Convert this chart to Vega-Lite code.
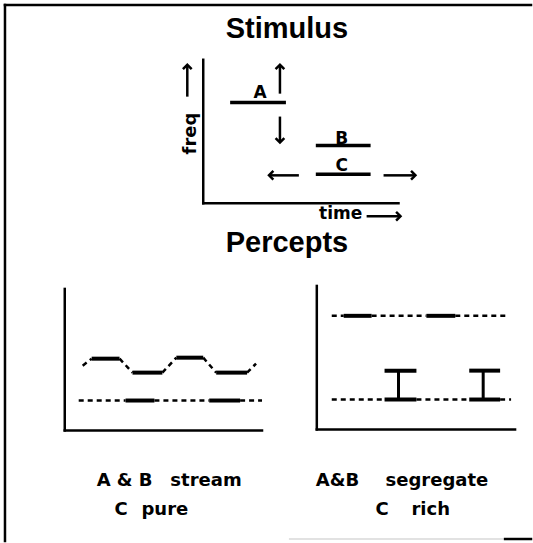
{
  "$schema": "https://vega.github.io/schema/vega-lite/v6.json",
  "width": 533,
  "height": 543,
  "padding": 0,
  "autosize": {"type": "fit", "contains": "padding"},
  "background": "white",
  "config": {"view": {"stroke": null}},
  "datasets": {
    "axes": [
      {"x": 5, "y": 5, "x2": 5, "y2": 543},
      {"x": 5, "y": 5, "x2": 533, "y2": 5},
      {"x": 204, "y": 60, "x2": 204, "y2": 204},
      {"x": 204, "y": 204, "x2": 400, "y2": 204},
      {"x": 65, "y": 290, "x2": 65, "y2": 432},
      {"x": 65, "y": 432, "x2": 263, "y2": 432},
      {"x": 318, "y": 287, "x2": 318, "y2": 431},
      {"x": 318, "y": 431, "x2": 517, "y2": 431},
      {"x": 507, "y": 541, "x2": 533, "y2": 541}
    ],
    "faint": [
      {"x": 290, "y": 541, "x2": 507, "y2": 541}
    ],
    "tones": [
      {"tone": "A", "x": 231, "y": 103, "x2": 287, "y2": 103},
      {"tone": "B", "x": 317, "y": 146, "x2": 372, "y2": 146},
      {"tone": "C", "x": 317, "y": 175, "x2": 372, "y2": 175}
    ],
    "solid": [
      {"x": 92, "y": 360, "x2": 120, "y2": 360},
      {"x": 133, "y": 374, "x2": 163, "y2": 374},
      {"x": 177, "y": 359, "x2": 204, "y2": 359},
      {"x": 217, "y": 374, "x2": 248, "y2": 374},
      {"x": 126, "y": 402, "x2": 155, "y2": 402},
      {"x": 210, "y": 402, "x2": 241, "y2": 402},
      {"x": 345, "y": 317, "x2": 373, "y2": 317},
      {"x": 428, "y": 317, "x2": 457, "y2": 317},
      {"x": 386, "y": 401, "x2": 418, "y2": 401},
      {"x": 471, "y": 401, "x2": 502, "y2": 401},
      {"x": 386, "y": 372, "x2": 418, "y2": 372},
      {"x": 471, "y": 372, "x2": 502, "y2": 372}
    ],
    "beams": [
      {"x": 400, "y": 372, "x2": 400, "y2": 401},
      {"x": 485, "y": 372, "x2": 485, "y2": 401}
    ],
    "dashed": [
      {"x": 83, "y": 367, "x2": 92, "y2": 360},
      {"x": 120, "y": 360, "x2": 133, "y2": 374},
      {"x": 163, "y": 374, "x2": 177, "y2": 359},
      {"x": 204, "y": 359, "x2": 217, "y2": 374},
      {"x": 248, "y": 374, "x2": 257, "y2": 365},
      {"x": 79, "y": 402, "x2": 126, "y2": 402},
      {"x": 155, "y": 402, "x2": 210, "y2": 402},
      {"x": 241, "y": 402, "x2": 263, "y2": 402},
      {"x": 333, "y": 317, "x2": 345, "y2": 317},
      {"x": 373, "y": 317, "x2": 428, "y2": 317},
      {"x": 457, "y": 317, "x2": 510, "y2": 317},
      {"x": 333, "y": 401, "x2": 386, "y2": 401},
      {"x": 418, "y": 401, "x2": 471, "y2": 401},
      {"x": 502, "y": 401, "x2": 513, "y2": 401}
    ],
    "shafts": [
      {"x": 188, "y": 97, "x2": 188, "y2": 66},
      {"x": 281, "y": 94, "x2": 281, "y2": 66},
      {"x": 281, "y": 117, "x2": 281, "y2": 142},
      {"x": 300, "y": 176, "x2": 271, "y2": 176},
      {"x": 385, "y": 176, "x2": 416, "y2": 176},
      {"x": 368, "y": 217, "x2": 401, "y2": 217}
    ],
    "heads": [
      {"x": 188, "y": 65, "dir": "up"},
      {"x": 281, "y": 65, "dir": "up"},
      {"x": 281, "y": 143, "dir": "down"},
      {"x": 270, "y": 176, "dir": "left"},
      {"x": 417, "y": 176, "dir": "right"},
      {"x": 402, "y": 217, "dir": "right"}
    ],
    "titles": [
      {"x": 288, "y": 38, "label": "Stimulus"},
      {"x": 288, "y": 253, "label": "Percepts"}
    ],
    "letters": [
      {"x": 261, "y": 98, "label": "A"},
      {"x": 343, "y": 145, "label": "B"},
      {"x": 343, "y": 172, "label": "C"},
      {"x": 342, "y": 220, "label": "time"}
    ],
    "captions": [
      {"x": 97, "y": 488, "label": "A & B"},
      {"x": 171, "y": 488, "label": "stream"},
      {"x": 115, "y": 517, "label": "C"},
      {"x": 142, "y": 517, "label": "pure"},
      {"x": 317, "y": 488, "label": "A&B"},
      {"x": 387, "y": 488, "label": "segregate"},
      {"x": 377, "y": 517, "label": "C"},
      {"x": 413, "y": 517, "label": "rich"}
    ]
  },
  "encoding": {
    "x": {"field": "x", "type": "quantitative", "scale": {"domain": [0, 533], "nice": false, "zero": false}, "axis": null},
    "y": {"field": "y", "type": "quantitative", "scale": {"domain": [0, 543], "nice": false, "zero": false, "reverse": true}, "axis": null}
  },
  "layer": [
    {
      "data": {"name": "faint"},
      "mark": {"type": "rule", "color": "#d8d8d8", "strokeWidth": 1.5},
      "encoding": {"x2": {"field": "x2"}, "y2": {"field": "y2"}}
    },
    {
      "data": {"name": "axes"},
      "mark": {"type": "rule", "color": "black", "strokeWidth": 2.5, "strokeCap": "square"},
      "encoding": {"x2": {"field": "x2"}, "y2": {"field": "y2"}}
    },
    {
      "data": {"name": "tones"},
      "mark": {"type": "rule", "color": "black", "strokeWidth": 3.5},
      "encoding": {"x2": {"field": "x2"}, "y2": {"field": "y2"}}
    },
    {
      "data": {"name": "solid"},
      "mark": {"type": "rule", "color": "black", "strokeWidth": 4},
      "encoding": {"x2": {"field": "x2"}, "y2": {"field": "y2"}}
    },
    {
      "data": {"name": "beams"},
      "mark": {"type": "rule", "color": "black", "strokeWidth": 3},
      "encoding": {"x2": {"field": "x2"}, "y2": {"field": "y2"}}
    },
    {
      "data": {"name": "dashed"},
      "mark": {"type": "rule", "color": "black", "strokeWidth": 2.5, "strokeDash": [5, 4]},
      "encoding": {"x2": {"field": "x2"}, "y2": {"field": "y2"}}
    },
    {
      "data": {"name": "shafts"},
      "mark": {"type": "rule", "color": "black", "strokeWidth": 2.5},
      "encoding": {"x2": {"field": "x2"}, "y2": {"field": "y2"}}
    },
    {
      "data": {"name": "heads"},
      "transform": [{"filter": "datum.dir == 'up'"}],
      "mark": {"type": "point", "shape": "M-0.8,0.8L0,0L0.8,0.8", "filled": false, "color": "black", "strokeWidth": 2.5, "size": 120, "opacity": 1, "angle": 0}
    },
    {
      "data": {"name": "heads"},
      "transform": [{"filter": "datum.dir == 'right'"}],
      "mark": {"type": "point", "shape": "M-0.8,0.8L0,0L0.8,0.8", "filled": false, "color": "black", "strokeWidth": 2.5, "size": 120, "opacity": 1, "angle": 90}
    },
    {
      "data": {"name": "heads"},
      "transform": [{"filter": "datum.dir == 'down'"}],
      "mark": {"type": "point", "shape": "M-0.8,0.8L0,0L0.8,0.8", "filled": false, "color": "black", "strokeWidth": 2.5, "size": 120, "opacity": 1, "angle": 180}
    },
    {
      "data": {"name": "heads"},
      "transform": [{"filter": "datum.dir == 'left'"}],
      "mark": {"type": "point", "shape": "M-0.8,0.8L0,0L0.8,0.8", "filled": false, "color": "black", "strokeWidth": 2.5, "size": 120, "opacity": 1, "angle": 270}
    },
    {
      "data": {"name": "titles"},
      "mark": {"type": "text", "font": "Liberation Sans", "fontWeight": "bold", "fontSize": 29, "align": "center", "baseline": "alphabetic", "color": "black"},
      "encoding": {"text": {"field": "label"}}
    },
    {
      "data": {"name": "letters"},
      "mark": {"type": "text", "font": "DejaVu Sans", "fontWeight": "bold", "fontSize": 17, "align": "center", "baseline": "alphabetic", "color": "black"},
      "encoding": {"text": {"field": "label"}}
    },
    {
      "data": {"values": [{"x": 192, "y": 134, "label": "freq"}]},
      "mark": {"type": "text", "font": "DejaVu Sans", "fontWeight": "bold", "fontSize": 18, "angle": 270, "align": "center", "baseline": "middle", "color": "black"},
      "encoding": {"text": {"field": "label"}}
    },
    {
      "data": {"name": "captions"},
      "mark": {"type": "text", "font": "DejaVu Sans", "fontWeight": "bold", "fontSize": 18, "align": "left", "baseline": "alphabetic", "color": "black"},
      "encoding": {"text": {"field": "label"}}
    }
  ]
}
